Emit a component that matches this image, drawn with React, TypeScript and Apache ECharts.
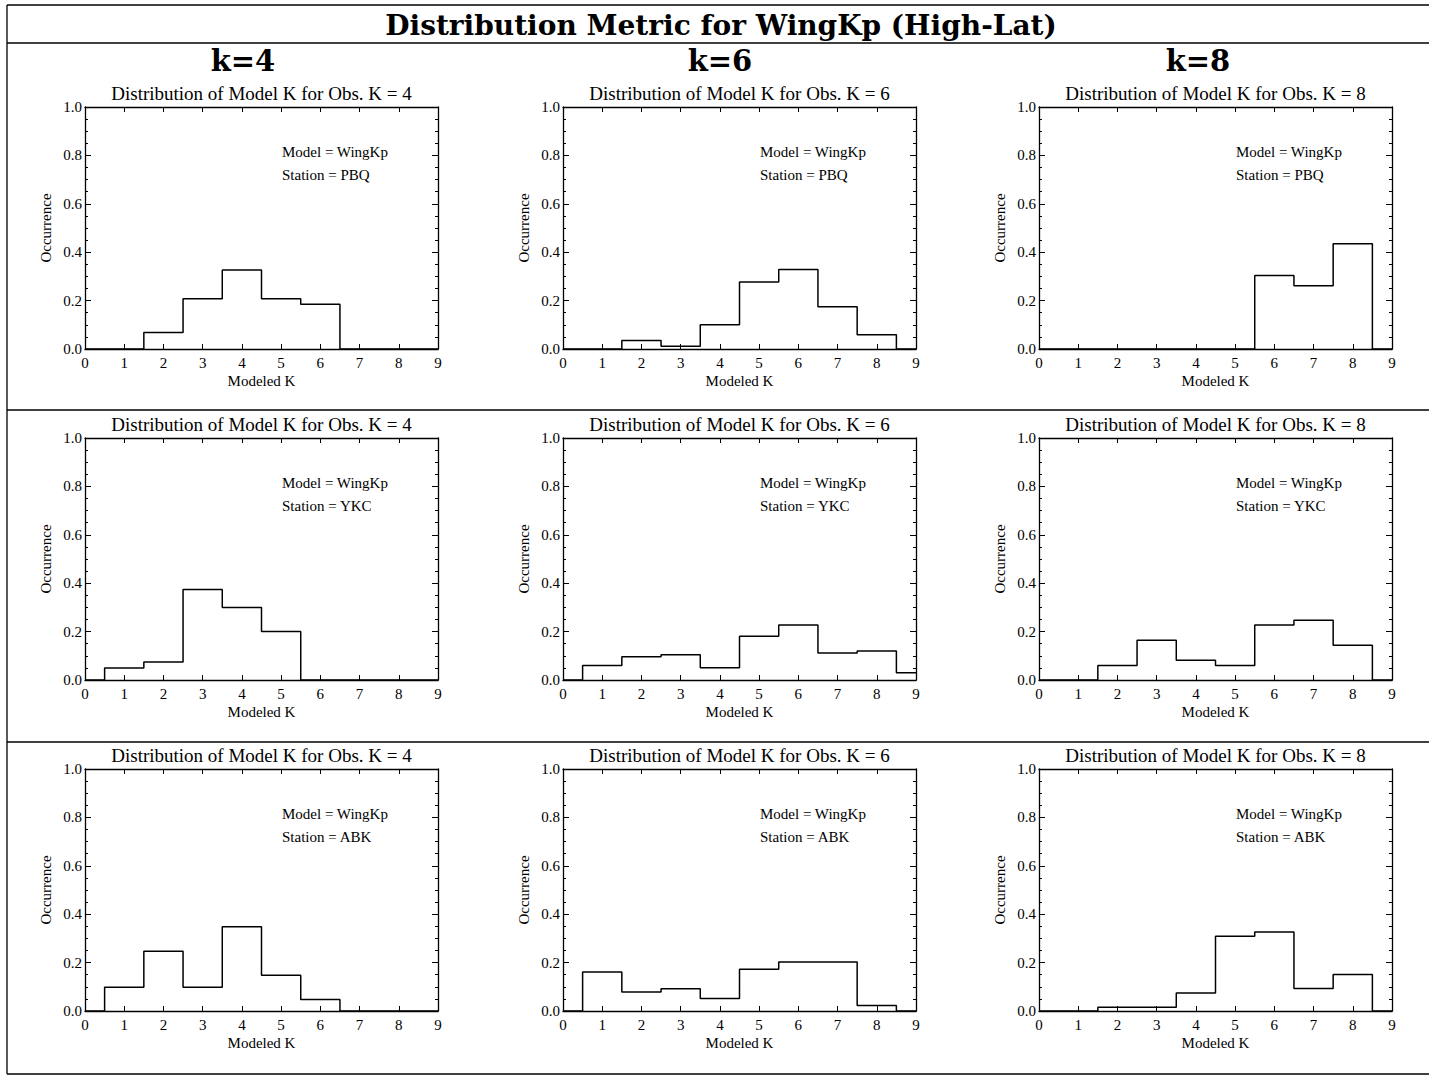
import React, { useEffect, useRef } from "react";
import * as echarts from "echarts";

// ---------- data ----------
const mainTitle = "Distribution Metric for WingKp (High-Lat)";
const columnHeaders = ["k=4", "k=6", "k=8"];
const obsK = [4, 6, 8];
const stations = ["PBQ", "YKC", "ABK"];
const modelName = "WingKp";
const kBins = [0, 1, 2, 3, 4, 5, 6, 7, 8, 9];

// occurrence per modeled K bin (0..9), rows = stations, cols = obs K
const pbqK4 = [0, 0, 0.068, 0.208, 0.326, 0.208, 0.185, 0, 0, 0];
const pbqK6 = [0, 0, 0.035, 0.011, 0.1, 0.277, 0.328, 0.175, 0.059, 0];
const pbqK8 = [0, 0, 0, 0, 0, 0, 0.304, 0.261, 0.435, 0];
const ykcK4 = [0, 0.05, 0.074, 0.374, 0.3, 0.2, 0, 0, 0, 0];
const ykcK6 = [0, 0.06, 0.096, 0.104, 0.051, 0.181, 0.227, 0.112, 0.12, 0.03];
const ykcK8 = [0, 0, 0.06, 0.164, 0.082, 0.06, 0.227, 0.247, 0.144, 0];
const abkK4 = [0, 0.098, 0.247, 0.098, 0.348, 0.148, 0.048, 0, 0, 0];
const abkK6 = [0, 0.161, 0.078, 0.092, 0.052, 0.173, 0.202, 0.202, 0.023, 0];
const abkK8 = [0, 0, 0.016, 0.016, 0.074, 0.309, 0.326, 0.093, 0.151, 0];

const panelData = [
  [pbqK4, pbqK6, pbqK8],
  [ykcK4, ykcK6, ykcK8],
  [abkK4, abkK6, abkK8],
];

// ---------- layout ----------
const W = 1429;
const H = 1077;
const colLefts = [85, 563, 1039];
const rowTops = [107, 438, 769];
const plotW = 353;
const plotH = 242;

const SERIF = '"Liberation Serif", "Times New Roman", serif';
const BOLD_SERIF = '"DejaVu Serif", serif';

export default function App() {
  const ref = useRef<HTMLDivElement>(null);

  useEffect(() => {
    if (!ref.current) return;
    const chart = echarts.init(ref.current, undefined, { renderer: "svg" });

    const grids: any[] = [];
    const xAxes: any[] = [];
    const yAxes: any[] = [];
    const series: any[] = [];
    const graphics: any[] = [];

    const axisLine = { show: true, onZero: false, lineStyle: { color: "#000", width: 1.3 } };
    const tickStyle = { color: "#000", width: 1 };

    for (let r = 0; r < 3; r++) {
      for (let c = 0; c < 3; c++) {
        const gi = grids.length;
        const left = colLefts[c];
        const top = rowTops[r];
        grids.push({ left, top, width: plotW, height: plotH, containLabel: false });

        // bottom x
        xAxes.push({
          type: "value",
          gridIndex: gi,
          position: "bottom",
          min: 0,
          max: 9,
          interval: 1,
          axisLine,
          axisTick: { show: true, inside: true, length: 5, lineStyle: tickStyle },
          axisLabel: { show: true, color: "#000", fontFamily: SERIF, fontSize: 15, margin: 6 },
          splitLine: { show: false },
          name: "Modeled K",
          nameLocation: "middle",
          nameGap: 24,
          nameTextStyle: { color: "#000", fontFamily: SERIF, fontSize: 15 },
        });
        // top x (mirror)
        xAxes.push({
          type: "value",
          gridIndex: gi,
          position: "top",
          min: 0,
          max: 9,
          interval: 1,
          axisLine,
          axisTick: { show: true, inside: true, length: 5, lineStyle: tickStyle },
          axisLabel: { show: false },
          splitLine: { show: false },
        });
        // left y
        yAxes.push({
          type: "value",
          gridIndex: gi,
          position: "left",
          min: 0,
          max: 1,
          interval: 0.2,
          axisLine,
          axisTick: { show: true, inside: true, length: 6, lineStyle: tickStyle },
          minorTick: { show: true, splitNumber: 4, length: 3, lineStyle: tickStyle },
          axisLabel: {
            show: true,
            color: "#000",
            fontFamily: SERIF,
            fontSize: 15,
            margin: 3,
            formatter: (v: number) => v.toFixed(1),
          },
          splitLine: { show: false },
          name: "Occurrence",
          nameLocation: "middle",
          nameGap: 32,
          nameTextStyle: { color: "#000", fontFamily: SERIF, fontSize: 15 },
        });
        // right y (mirror)
        yAxes.push({
          type: "value",
          gridIndex: gi,
          position: "right",
          min: 0,
          max: 1,
          interval: 0.2,
          axisLine,
          axisTick: { show: true, inside: true, length: 6, lineStyle: tickStyle },
          minorTick: { show: true, splitNumber: 4, length: 3, lineStyle: tickStyle },
          axisLabel: { show: false },
          splitLine: { show: false },
        });

        const vals = panelData[r][c];
        series.push({
          type: "line",
          xAxisIndex: gi * 2,
          yAxisIndex: gi * 2,
          step: "middle",
          symbol: "none",
          data: kBins.map((k, i) => [k, vals[i]]),
          lineStyle: { color: "#000", width: 1.5 },
          silent: true,
        });

        // panel title
        graphics.push({
          type: "text",
          x: left + plotW / 2,
          y: top - 14,
          style: {
            text: `Distribution of Model K for Obs. K = ${obsK[c]}`,
            fill: "#000",
            font: `19px ${SERIF}`,
            align: "center",
            verticalAlign: "middle",
          },
        });
        // annotations
        graphics.push({
          type: "text",
          x: left + 197,
          y: top + 45,
          style: {
            text: `Model = ${modelName}`,
            fill: "#000",
            font: `15px ${SERIF}`,
            align: "left",
            verticalAlign: "middle",
          },
        });
        graphics.push({
          type: "text",
          x: left + 197,
          y: top + 68,
          style: {
            text: `Station = ${stations[r]}`,
            fill: "#000",
            font: `15px ${SERIF}`,
            align: "left",
            verticalAlign: "middle",
          },
        });
      }
    }

    // column headers
    const headerX = [243, 720, 1198];
    for (let c = 0; c < 3; c++) {
      graphics.push({
        type: "text",
        x: headerX[c],
        y: 61,
        style: {
          text: columnHeaders[c],
          fill: "#000",
          font: `bold 29px ${BOLD_SERIF}`,
          align: "center",
          verticalAlign: "middle",
        },
      });
    }

    // main title
    graphics.push({
      type: "text",
      x: 721,
      y: 25,
      style: {
        text: mainTitle,
        fill: "#000",
        font: `bold 28px ${BOLD_SERIF}`,
        align: "center",
        verticalAlign: "middle",
      },
    });

    // frame lines
    const frameLines = [
      [7, 5, W, 5],
      [7, 43, W, 43],
      [7, 410, W, 410],
      [7, 742, W, 742],
      [7, 1074, W, 1074],
      [7, 5, 7, 1074],
    ];
    frameLines.forEach(([x1, y1, x2, y2]) =>
      graphics.push({
        type: "line",
        shape: { x1, y1, x2, y2 },
        style: { stroke: "#000", lineWidth: 1.3 },
        silent: true,
      })
    );

    chart.setOption({
      animation: false,
      backgroundColor: "#fff",
      grid: grids,
      xAxis: xAxes,
      yAxis: yAxes,
      series,
      graphic: graphics,
    });

    return () => chart.dispose();
  }, []);

  return (
    <div
      ref={ref}
      style={{ position: "absolute", left: 0, top: 0, width: W, height: H, background: "#fff" }}
    />
  );
}
